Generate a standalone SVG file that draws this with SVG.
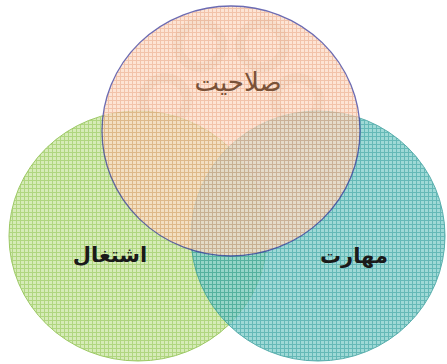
<svg xmlns="http://www.w3.org/2000/svg" width="447" height="364" viewBox="0 0 447 364">
  <defs>
    <pattern id="gridPeach" width="4" height="4" patternUnits="userSpaceOnUse">
      <rect width="4" height="4" fill="#fddcc6"/>
      <path d="M0 0.5H4M0.5 0V4" stroke="#eeb08e" stroke-width="1"/>
    </pattern>
    <pattern id="gridGreen" width="4" height="4" patternUnits="userSpaceOnUse">
      <rect width="4" height="4" fill="#cfe8ab"/>
      <path d="M0 0.5H4M0.5 0V4" stroke="#a3cf6a" stroke-width="1"/>
    </pattern>
    <pattern id="gridTeal" width="4" height="4" patternUnits="userSpaceOnUse">
      <rect width="4" height="4" fill="#86d0cc"/>
      <path d="M0 0.5H4M0.5 0V4" stroke="#3fa8a6" stroke-width="1"/>
    </pattern>
  </defs>
  <style>
    .lbl { font-family: "DejaVu Sans", "Noto Sans", sans-serif; text-anchor: middle; }
    .bold { font-weight: bold; fill: #1a1a1a; font-size: 21px; }
    .top { fill: #7a5238; font-size: 26px; }
  </style>
  <rect width="447" height="364" fill="#ffffff"/>
  <g id="watermark" fill="none" stroke="#8a7a6a" stroke-opacity="0.2" stroke-width="10">
    <circle cx="200" cy="45" r="22"/>
    <circle cx="262" cy="45" r="22"/>
    <circle cx="165" cy="100" r="22"/>
    <circle cx="297" cy="100" r="22"/>
    <circle cx="150" cy="165" r="22"/>
    <circle cx="310" cy="160" r="22"/>
    <circle cx="240" cy="190" r="22"/>
  </g>
  <g id="node-green" opacity="0.85">
    <ellipse cx="138" cy="236" rx="129" ry="125" fill="url(#gridGreen)" stroke="#8cc04a" stroke-width="1"/>
  </g>
  <g id="node-teal" opacity="0.8">
    <ellipse cx="318" cy="236" rx="127" ry="125" fill="url(#gridTeal)" stroke="#2f9a98" stroke-width="1"/>
  </g>
  <g id="node-peach" opacity="0.75">
    <ellipse cx="231" cy="131" rx="129" ry="125" fill="url(#gridPeach)" stroke="#3a3a9a" stroke-width="1.3"/>
  </g>
  <g id="connectors"></g>
  <g id="labels">
    <text class="lbl top" x="238" y="91">صلاحیت</text>
    <text class="lbl bold" x="110" y="262">اشتغال</text>
    <text class="lbl bold" x="354" y="263">مهارت</text>
  </g>
</svg>
